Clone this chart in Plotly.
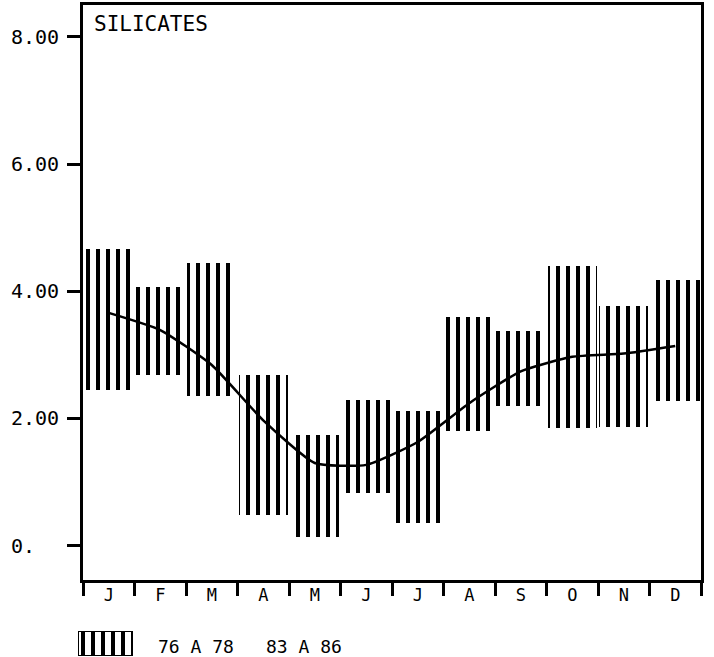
import plotly.graph_objects as go

# ---- data ----
months = ["J", "F", "M", "A", "M", "J", "J", "A", "S", "O", "N", "D"]
range_low = [2.44, 2.68, 2.36, 0.48, 0.14, 0.83, 0.35, 1.81, 2.20, 1.85, 1.87, 2.27]
range_high = [4.66, 4.07, 4.45, 2.68, 1.74, 2.29, 2.11, 3.60, 3.38, 4.39, 3.76, 4.18]
mean_83_86 = [3.66, 3.39, 2.84, 1.97, 1.30, 1.27, 1.63, 2.24, 2.74, 2.97, 3.02, 3.14]
y_ticks = [0, 2, 4, 6, 8]
y_tick_labels = ["0.", "2.00", "4.00", "6.00", "8.00"]
title_text = "SILICATES"
legend_labels = ["76 A 78", "83 A 86"]

x_idx = list(range(len(months)))
boundaries = [i - 0.5 for i in range(len(months) + 1)]
heights = [h - l for h, l in zip(range_high, range_low)]

FONT = "DejaVu Sans Mono"
W, H = 714, 657
ML, MR, MT, MB = 5, 13, 5, 0
PW, PH = W - ML - MR, H - MT - MB


def px_x(p):
    return (p - ML) / PW


def px_y(p):
    return (H - MB - p) / PH


pattern = dict(shape="|", size=10, solidity=0.4, fgcolor="black",
               bgcolor="white", fillmode="replace")

fig = go.Figure()

fig.add_trace(go.Bar(
    x=x_idx, y=heights, base=range_low, width=0.95,
    marker=dict(color="white", line=dict(width=0), pattern=pattern),
    showlegend=False, hoverinfo="skip",
))

fig.add_trace(go.Scatter(
    x=x_idx, y=mean_83_86, mode="lines",
    line=dict(color="black", width=2.5, shape="spline", smoothing=0.5),
    showlegend=False, hoverinfo="skip",
))

# legend swatch on an auxiliary axis
fig.add_trace(go.Bar(
    x=[0.5], y=[1], width=1, xaxis="x2", yaxis="y2",
    marker=dict(color="white", line=dict(width=2, color="black"), pattern=pattern),
    showlegend=False, hoverinfo="skip",
))

fig.update_layout(
    width=W, height=H,
    margin=dict(l=ML, r=MR, t=MT, b=MB),
    paper_bgcolor="white", plot_bgcolor="white",
    font=dict(family=FONT, color="black", size=17),
    bargap=0,
    xaxis=dict(
        domain=[px_x(83), px_x(701)],
        range=[-0.5, 11.5],
        tickmode="array", tickvals=x_idx, ticktext=months,
        ticks="", showgrid=False, zeroline=False,
        showline=True, linecolor="black", linewidth=2.5, mirror=True,
        tickfont=dict(family=FONT, size=17, color="black"),
        ticklabelstandoff=-2,
        minor=dict(tickmode="array", tickvals=boundaries, ticks="outside",
                   ticklen=13, tickwidth=2.5, tickcolor="black", showgrid=False),
        anchor="y",
    ),
    yaxis=dict(
        domain=[px_y(580), px_y(5)],
        range=[-0.54, 8.50],
        tickmode="array", tickvals=y_ticks,
        ticks="outside", ticklen=13, tickwidth=2.5, tickcolor="black",
        showticklabels=False, showgrid=False, zeroline=False,
        showline=True, linecolor="black", linewidth=2.5, mirror=True,
        anchor="x",
    ),
    xaxis2=dict(domain=[px_x(78), px_x(133)], range=[0, 1], visible=False,
                anchor="y2", fixedrange=True),
    yaxis2=dict(domain=[px_y(656), px_y(631)], range=[0, 1], visible=False,
                anchor="x2", fixedrange=True),
)

annotations = []
for v, t in zip(y_ticks, y_tick_labels):
    annotations.append(dict(x=px_x(9), xref="paper", y=v, yref="y", text=t,
                            xanchor="left", yanchor="middle", showarrow=False,
                            font=dict(family=FONT, size=20, color="black")))
annotations.append(dict(x=px_x(92), xref="paper", y=px_y(24), yref="paper",
                        text=title_text, xanchor="left", yanchor="middle",
                        showarrow=False,
                        font=dict(family=FONT, size=21, color="black")))
for xpx, t in zip([156, 264], legend_labels):
    annotations.append(dict(x=px_x(xpx), xref="paper", y=px_y(646), yref="paper",
                            text=t, xanchor="left", yanchor="middle",
                            showarrow=False,
                            font=dict(family=FONT, size=18, color="black")))
fig.update_layout(annotations=annotations)

fig.write_html("out.html")
